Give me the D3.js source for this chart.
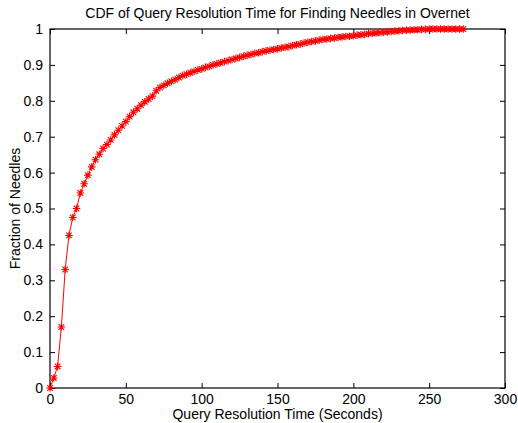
<!DOCTYPE html>
<html>
<head>
<meta charset="utf-8">
<script src="https://cdn.jsdelivr.net/npm/d3@7"></script>
<style>
  html, body { margin: 0; padding: 0; background: #fff; }
  svg { display: block; }
  text { font-family: "Liberation Sans", Arial, Helvetica, sans-serif; fill: #000; }
</style>
</head>
<body>
<svg id="chart" width="518" height="423"></svg>
<script>
// ---- data ----
const times = [
  0, 2.5, 5, 7.5, 10, 12.5, 15, 17.5, 20, 22.5,
  25, 27.5, 30, 32.5, 35, 37.5, 40, 42.5, 45, 47.5,
  50, 52.5, 55, 57.5, 60, 62.5, 65, 67.5, 70, 72.5,
  75, 77.5, 80, 82.5, 85, 87.5, 90, 92.5, 95, 97.5,
  100, 102.5, 105, 107.5, 110, 112.5, 115, 117.5, 120, 122.5,
  125, 127.5, 130, 132.5, 135, 137.5, 140, 142.5, 145, 147.5,
  150, 152.5, 155, 157.5, 160, 162.5, 165, 167.5, 170, 172.5,
  175, 177.5, 180, 182.5, 185, 187.5, 190, 192.5, 195, 197.5,
  200, 202.5, 205, 207.5, 210, 212.5, 215, 217.5, 220, 222.5,
  225, 227.5, 230, 232.5, 235, 237.5, 240, 242.5, 245, 247.5,
  250, 252.5, 255, 257.5, 260, 262.5, 265, 267.5, 270, 272.5
];
const fractions = [
  0.000, 0.028, 0.060, 0.170, 0.330, 0.425, 0.475, 0.500, 0.543, 0.569,
  0.593, 0.616, 0.636, 0.651, 0.667, 0.678, 0.691, 0.705, 0.718, 0.730,
  0.742, 0.756, 0.768, 0.778, 0.788, 0.797, 0.805, 0.813, 0.828, 0.837,
  0.843, 0.849, 0.854, 0.859, 0.865, 0.870, 0.874, 0.878, 0.882, 0.886,
  0.889, 0.893, 0.896, 0.900, 0.903, 0.906, 0.909, 0.912, 0.915, 0.918,
  0.921, 0.924, 0.927, 0.929, 0.932, 0.934, 0.937, 0.939, 0.941, 0.943,
  0.945, 0.947, 0.949, 0.951, 0.954, 0.956, 0.958, 0.961, 0.963, 0.965,
  0.967, 0.969, 0.971, 0.972, 0.974, 0.975, 0.977, 0.978, 0.979, 0.980,
  0.981, 0.983, 0.984, 0.985, 0.987, 0.988, 0.989, 0.990, 0.991, 0.992,
  0.993, 0.994, 0.995, 0.996, 0.997, 0.997, 0.998, 0.998, 0.999, 0.999,
  1.000, 1.000, 1.000, 1.000, 1.000, 1.000, 1.000, 1.000, 1.000, 1.000
];
const xTicks = [0, 50, 100, 150, 200, 250, 300];
const yTicks = [0, 0.1, 0.2, 0.3, 0.4, 0.5, 0.6, 0.7, 0.8, 0.9, 1];
const yTickLabels = ["0", "0.1", "0.2", "0.3", "0.4", "0.5", "0.6", "0.7", "0.8", "0.9", "1"];
const titleText = "CDF of Query Resolution Time for Finding Needles in Overnet";
const xLabelText = "Query Resolution Time (Seconds)";
const yLabelText = "Fraction of Needles";

// ---- layout ----
const svg = d3.select("#chart");
const mLeft = 50, mRight = 505, mTop = 29, mBottom = 388;

const x = d3.scaleLinear().domain([0, 300]).range([mLeft, mRight]);
const y = d3.scaleLinear().domain([0, 1]).range([mBottom, mTop]);

function styleAxis(g) {
  g.select(".domain").remove();
  g.selectAll(".tick line").attr("stroke", "#000").attr("stroke-width", 1);
  g.selectAll(".tick text").style("font-size", "14px")
    .style("font-family", '"Liberation Sans", Arial, Helvetica, sans-serif');
}

// bottom axis (inward ticks)
svg.append("g")
  .attr("transform", `translate(0,${mBottom})`)
  .call(d3.axisBottom(x).tickValues(xTicks).tickSizeInner(-5).tickSizeOuter(0).tickPadding(6))
  .call(styleAxis);

// top axis ticks
svg.append("g")
  .attr("transform", `translate(0,${mTop})`)
  .call(d3.axisTop(x).tickValues(xTicks).tickSizeInner(-5).tickSizeOuter(0).tickFormat(""))
  .call(styleAxis);

// left axis
svg.append("g")
  .attr("transform", `translate(${mLeft},0)`)
  .call(d3.axisLeft(y).tickValues(yTicks).tickSizeInner(-5).tickSizeOuter(0).tickPadding(7)
    .tickFormat((d, i) => yTickLabels[i]))
  .call(styleAxis);

// right axis ticks
svg.append("g")
  .attr("transform", `translate(${mRight},0)`)
  .call(d3.axisRight(y).tickValues(yTicks).tickSizeInner(-5).tickSizeOuter(0).tickFormat(""))
  .call(styleAxis);

// plot box
svg.append("rect")
  .attr("x", mLeft).attr("y", mTop)
  .attr("width", mRight - mLeft).attr("height", mBottom - mTop)
  .attr("fill", "none").attr("stroke", "#000").attr("stroke-width", 1.2);

// data line
const data = times.map((t, i) => ({ t, f: fractions[i] }));
const line = d3.line().x(d => x(d.t)).y(d => y(d.f));
svg.append("path")
  .datum(data)
  .attr("d", line)
  .attr("fill", "none")
  .attr("stroke", "#ff0000")
  .attr("stroke-width", 1);

// asterisk markers
const r = 3.8, rd = 2.8;
const star = `M${-r},0L${r},0M0,${-r}L0,${r}M${-rd},${-rd}L${rd},${rd}M${-rd},${rd}L${rd},${-rd}`;
svg.append("g").selectAll("path")
  .data(data)
  .join("path")
  .attr("transform", d => `translate(${x(d.t)},${y(d.f)})`)
  .attr("d", star)
  .attr("fill", "none")
  .attr("stroke", "#ff0000")
  .attr("stroke-width", 1.1);

// title & labels
svg.append("text")
  .attr("x", (mLeft + mRight) / 2).attr("y", 18)
  .attr("text-anchor", "middle")
  .style("font-size", "14px")
  .text(titleText);

svg.append("text")
  .attr("x", (mLeft + mRight) / 2).attr("y", 419)
  .attr("text-anchor", "middle")
  .style("font-size", "14px")
  .text(xLabelText);

svg.append("text")
  .attr("transform", `translate(20,${(mTop + mBottom) / 2}) rotate(-90)`)
  .attr("text-anchor", "middle")
  .style("font-size", "14px")
  .text(yLabelText);
</script>
</body>
</html>
